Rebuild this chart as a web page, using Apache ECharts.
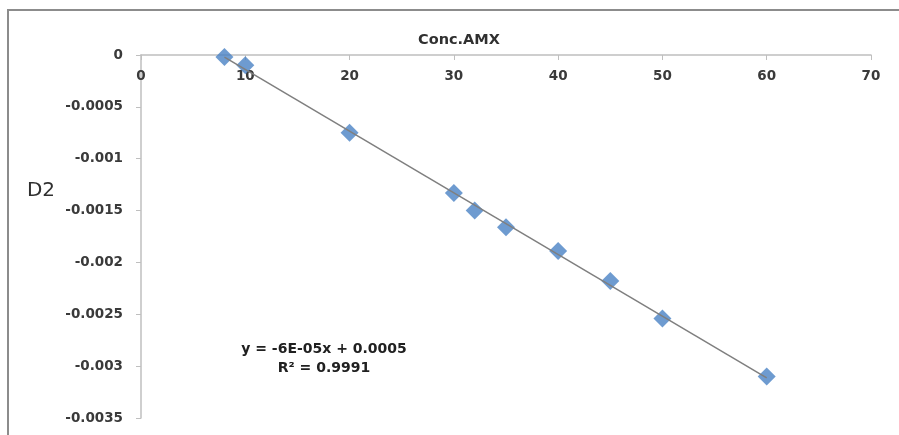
<!DOCTYPE html>
<html>
<head>
<meta charset="utf-8">
<script src="https://cdn.jsdelivr.net/npm/echarts@6/dist/echarts.min.js"></script>
<style>
html,body{margin:0;padding:0;background:#fff;}
#main{width:899px;height:435px;}
</style>
</head>
<body>
<div id="main"></div>
<script>
const concX = [8, 10, 20, 30, 32, 35, 40, 45, 50, 60];
const d2Values = [-0.00002, -0.0001, -0.00075, -0.00133, -0.0015, -0.00166, -0.00189, -0.00218, -0.00254, -0.0031];
const xTicks = [0, 10, 20, 30, 40, 50, 60, 70];
const yTicks = [0, -0.0005, -0.001, -0.0015, -0.002, -0.0025, -0.003, -0.0035];
const xTitle = 'Conc.AMX';
const yTitle = 'D2';
const eqLines = ['y = -6E-05x + 0.0005', 'R\u00B2 = 0.9991'];

// least squares trendline from the data
const n = concX.length;
const mx = concX.reduce((a, b) => a + b, 0) / n;
const my = d2Values.reduce((a, b) => a + b, 0) / n;
let sxy = 0, sxx = 0;
for (let i = 0; i < n; i++) { sxy += (concX[i] - mx) * (d2Values[i] - my); sxx += (concX[i] - mx) ** 2; }
const slope = sxy / sxx, icpt = my - slope * mx;
const xMin = Math.min(...concX), xMax = Math.max(...concX);
const trend = [[xMin, icpt + slope * xMin], [xMax, icpt + slope * xMax]];

const chart = echarts.init(document.getElementById('main'));
const labelFont = { fontFamily: 'DejaVu Sans', fontWeight: 700, fontSize: 13.5, color: '#3a3a3a' };
chart.setOption({
  animation: false,
  backgroundColor: '#fff',
  grid: { left: 141, right: 28, top: 55, bottom: 17 },
  xAxis: {
    type: 'value', position: 'top', min: xTicks[0], max: xTicks[xTicks.length - 1], interval: 10,
    axisLine: { show: true, lineStyle: { color: '#bfbfbf', width: 1.5 } },
    axisTick: { show: true, inside: true, length: 5, lineStyle: { color: '#bfbfbf' } },
    axisLabel: Object.assign({ inside: true, margin: 14, verticalAlign: 'top' }, labelFont),
    splitLine: { show: false }
  },
  yAxis: {
    type: 'value', min: yTicks[yTicks.length - 1], max: yTicks[0], interval: 0.0005,
    axisLine: { show: true, onZero: false, lineStyle: { color: '#bfbfbf', width: 1.5 } },
    axisTick: { show: true, length: 5, lineStyle: { color: '#bfbfbf' } },
    axisLabel: Object.assign({ margin: 18, formatter: v => String(+v.toFixed(4)) }, labelFont),
    splitLine: { show: false }
  },
  graphic: [
    { type: 'rect', shape: { x: 8, y: 10, width: 1000, height: 600 }, style: { fill: 'none', stroke: '#8c8c8c', lineWidth: 2 }, silent: true },
    { type: 'text', x: 459, y: 40, style: { text: xTitle, fontFamily: 'DejaVu Sans', fontWeight: 700, fontSize: 14.5, fill: '#303030', textAlign: 'center', textVerticalAlign: 'middle' } },
    { type: 'text', x: 41, y: 191, style: { text: yTitle, fontFamily: 'DejaVu Sans', fontSize: 20, fill: '#303030', textAlign: 'center', textVerticalAlign: 'middle' } },
    { type: 'text', x: 324, y: 349, style: { text: eqLines[0], fontFamily: 'DejaVu Sans', fontWeight: 700, fontSize: 14, fill: '#202020', textAlign: 'center', textVerticalAlign: 'middle' } },
    { type: 'text', x: 324, y: 368, style: { text: eqLines[1], fontFamily: 'DejaVu Sans', fontWeight: 700, fontSize: 14, fill: '#202020', textAlign: 'center', textVerticalAlign: 'middle' } }
  ],
  series: [
    {
      type: 'scatter', symbol: 'diamond', symbolSize: 18,
      itemStyle: { color: '#4a82c4' },
      data: concX.map((x, i) => [x, d2Values[i]]), z: 2
    },
    {
      type: 'line', data: trend, symbol: 'none', z: 3,
      lineStyle: { color: '#7f7f7f', width: 1.5 }
    }
  ]
});
</script>
</body>
</html>
